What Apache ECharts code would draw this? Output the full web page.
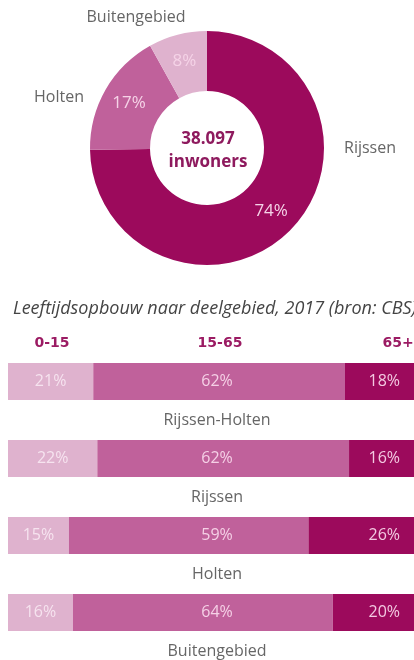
<!DOCTYPE html>
<html>
<head>
<meta charset="utf-8">
<script src="https://cdn.jsdelivr.net/npm/echarts@6/dist/echarts.min.js"></script>
<style>
  html, body { margin: 0; padding: 0; background: #fff; }
  #chart { width: 414px; height: 660px; }
</style>
</head>
<body>
<div id="chart"></div>
<script>
// donut: inwoners per deelgebied
const areaNames = ['Rijssen', 'Holten', 'Buitengebied']
const areaShares = [74, 17, 8]
const totalLabel = '38.097'

// leeftijdsopbouw
const regions = ['Rijssen-Holten', 'Rijssen', 'Holten', 'Buitengebied']
const ageGroups = ['0-15', '15-65', '65+']
const young = [21, 22, 15, 16]
const middle = [62, 62, 59, 64]
const old = [18, 16, 26, 20]

const dark = '#9c0a5c'
const medium = '#c0619b'
const light = '#dfb2ce'
const font = 'Open Sans'

const chart = echarts.init(document.getElementById('chart'))

// where the outer area names sit
const outerLabelPos = [
  [370, 148],
  [59, 97],
  [136, 17],
]
const headerX = [52, 220, 398]

const pieData = areaNames.map((n, i) => ({ name: n, value: areaShares[i] }))

chart.setOption({
  animation: false,
  title: {
    text: 'Leeftijdsopbouw naar deelgebied, 2017 (bron: CBS)',
    left: 8,
    top: 295,
    textStyle: {
      fontFamily: font,
      fontStyle: 'italic',
      fontWeight: 'normal',
      fontSize: 18,
      color: '#444',
    },
  },
  color: [dark, medium, light],
  grid: { left: 8, width: 412, top: 343, height: 308 },
  xAxis: { type: 'value', min: 0, max: 100, show: false },
  yAxis: { type: 'category', data: regions, inverse: true, show: false },
  graphic: [
    {
      type: 'text',
      x: 208,
      y: 151,
      style: {
        text: totalLabel + '\ninwoners',
        fill: '#8e1a5e',
        font: 'bold 17px "' + font + '"',
        lineHeight: 23,
        textAlign: 'center',
        textVerticalAlign: 'middle',
      },
    },
  ].concat(
    ageGroups.map((g, i) => ({
      type: 'text',
      x: headerX[i],
      y: 343,
      style: {
        text: g,
        fill: '#9b1b63',
        font: 'bold 14px "DejaVu Sans"',
        textAlign: 'center',
        textVerticalAlign: 'middle',
      },
    }))
  ),
  series: [
    {
      type: 'pie',
      center: [207, 148],
      radius: [57, 117],
      startAngle: 90,
      silent: true,
      data: pieData,
      label: {
        show: true,
        position: 'inside',
        formatter: '{c}%',
        color: '#f5d3e7',
        fontFamily: font,
        fontSize: 17,
      },
      labelLine: { show: false },
    },
    {
      type: 'pie',
      center: [207, 148],
      radius: [57, 117],
      startAngle: 90,
      silent: true,
      data: pieData,
      itemStyle: { color: 'transparent' },
      label: {
        show: true,
        position: 'outside',
        formatter: '{b}',
        overflow: 'none',
        width: 200,
        color: '#666',
        fontFamily: font,
        fontSize: 16,
      },
      labelLine: { show: false },
      labelLayout: function (params) {
        const p = outerLabelPos[params.dataIndex]
        return { x: p[0], y: p[1], align: 'center', verticalAlign: 'middle' }
      },
    },
    {
      name: ageGroups[0],
      type: 'bar',
      stack: 'age',
      barWidth: 37,
      barGap: '-100%',
      data: young,
      itemStyle: { color: light },
      label: {
        show: true,
        position: 'inside',
        formatter: '{c}%',
        color: '#f6e3ef',
        fontFamily: font,
        fontSize: 16,
      },
    },
    {
      name: ageGroups[1],
      type: 'bar',
      stack: 'age',
      barWidth: 37,
      barGap: '-100%',
      data: middle,
      itemStyle: { color: medium },
    },
    {
      name: ageGroups[2],
      type: 'bar',
      stack: 'age',
      barWidth: 37,
      barGap: '-100%',
      data: old,
      itemStyle: { color: dark },
      label: {
        show: true,
        position: 'insideRight',
        distance: 14,
        formatter: '{c}%',
        color: '#f3c9e1',
        fontFamily: font,
        fontSize: 16,
      },
    },
    {
      // middle percentage, centred on the whole bar
      type: 'bar',
      barWidth: 37,
      barGap: '-100%',
      silent: true,
      data: regions.map(() => 100),
      itemStyle: { color: 'transparent' },
      label: {
        show: true,
        position: 'inside',
        offset: [6, 0],
        formatter: (p) => middle[p.dataIndex] + '%',
        color: '#f5d0e6',
        fontFamily: font,
        fontSize: 16,
      },
    },
    {
      // region name under each bar
      type: 'bar',
      barWidth: 37,
      barGap: '-100%',
      silent: true,
      data: regions.map(() => 100),
      itemStyle: { color: 'transparent' },
      label: {
        show: true,
        position: 'bottom',
        distance: 12,
        offset: [6, 0],
        formatter: '{b}',
        color: '#666',
        fontFamily: font,
        fontSize: 16,
      },
    },
  ],
})
</script>
</body>
</html>
